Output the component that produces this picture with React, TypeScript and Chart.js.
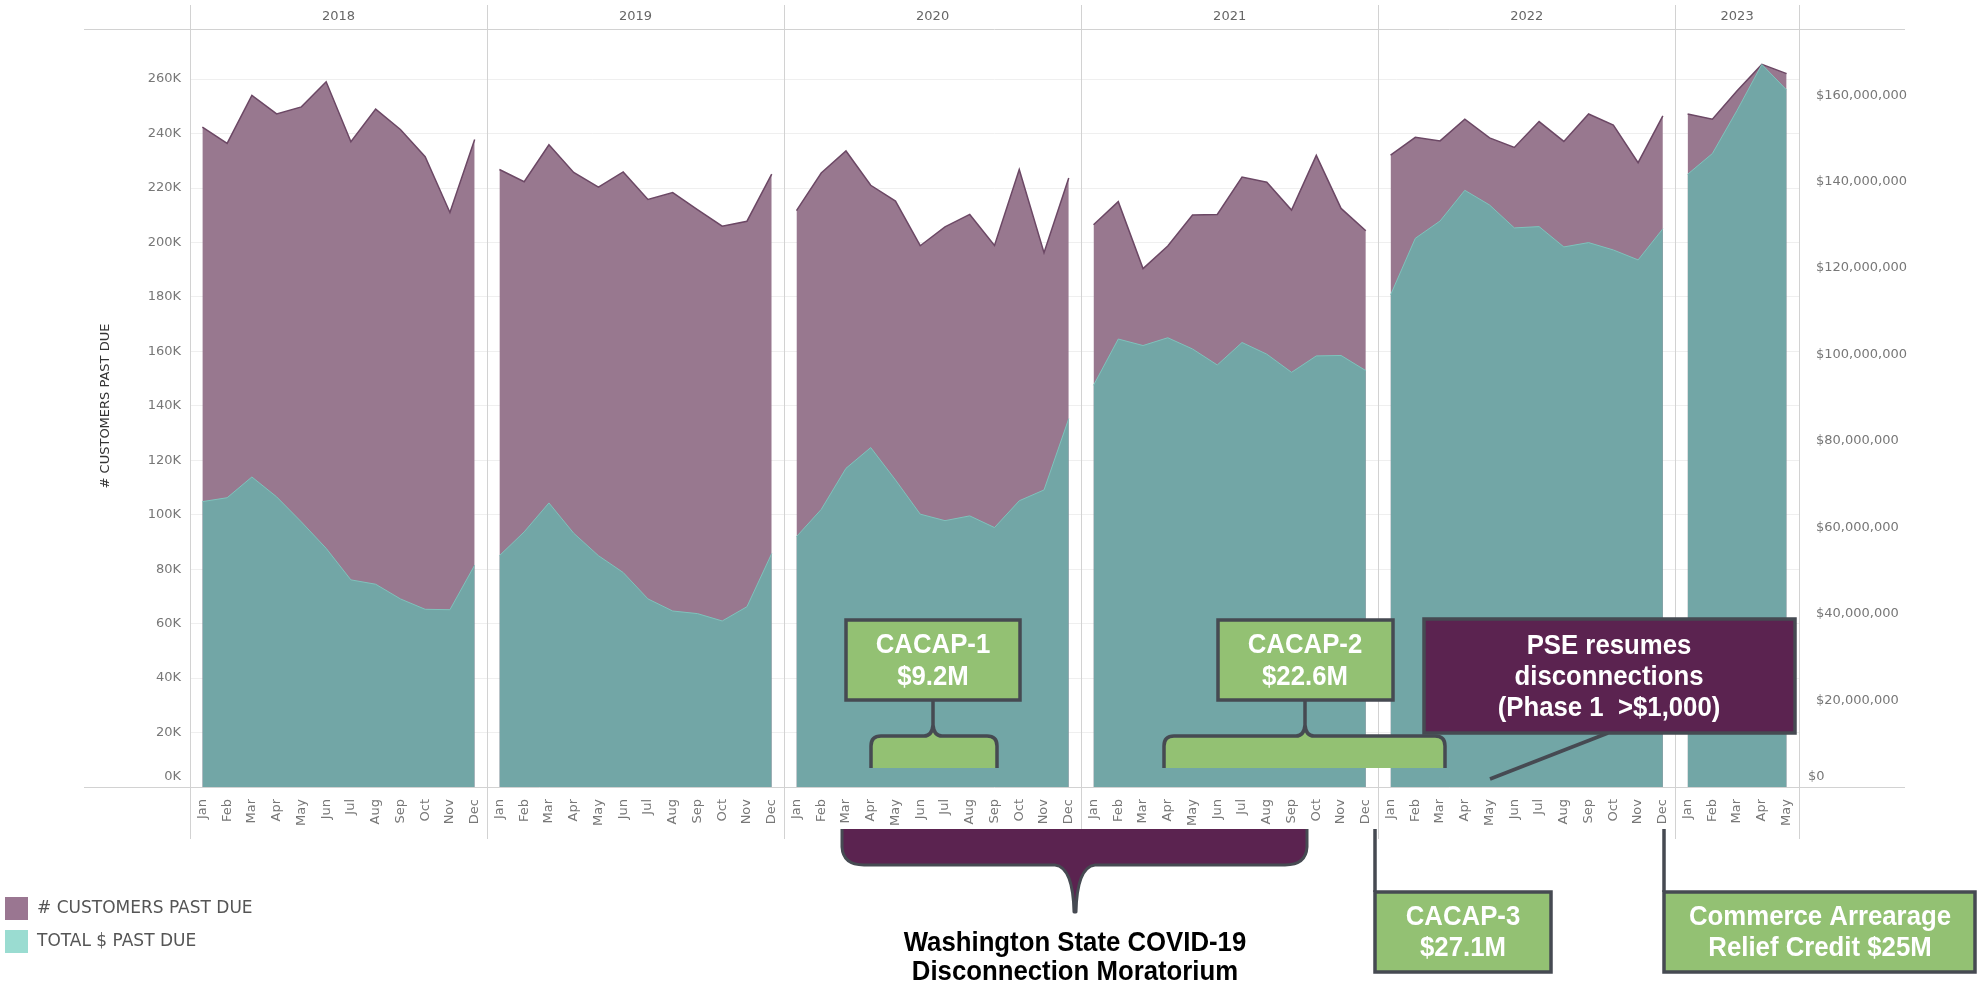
import React, { useEffect, useRef } from 'react';
import { Chart, registerables } from 'chart.js';

Chart.register(...registerables);

const W = 1979;
const H = 985;

const years = ['2018', '2019', '2020', '2021', '2022', '2023'];
const monthNames = ['Jan', 'Feb', 'Mar', 'Apr', 'May', 'Jun', 'Jul', 'Aug', 'Sep', 'Oct', 'Nov', 'Dec'];

// # customers past due (thousands)
const customers2018 = [242.4, 236.4, 254.0, 247.2, 249.8, 259.0, 237.0, 249.0, 241.5, 231.5, 211.0, 237.8];
const customers2019 = [226.8, 222.3, 235.9, 225.7, 220.3, 225.9, 215.8, 218.3, 212.1, 206.0, 207.8, 225.1];
const customers2020 = [211.7, 225.5, 233.6, 221.0, 215.2, 198.8, 205.7, 210.3, 198.9, 226.8, 196.2, 223.7];
const customers2021 = [206.5, 215.0, 190.4, 198.7, 210.1, 210.3, 224.0, 222.1, 211.9, 232.0, 212.5, 204.3];
const customers2022 = [232.1, 238.6, 237.3, 245.3, 238.4, 234.9, 244.4, 237.1, 247.2, 243.1, 229.3, 246.5];
const customers2023 = [247.2, 245.3, 255.7, 265.4, 262.0];

// total $ past due (millions)
const dollars2018 = [66.0, 66.9, 71.7, 67.1, 61.3, 55.2, 47.9, 46.9, 43.5, 41.1, 41.0, 51.3];
const dollars2019 = [53.5, 59.0, 65.7, 58.7, 53.5, 49.6, 43.5, 40.7, 40.1, 38.4, 41.7, 54.0];
const dollars2020 = [57.9, 64.2, 73.7, 78.5, 71.0, 63.1, 61.6, 62.7, 60.0, 66.2, 68.7, 85.2];
const dollars2021 = [92.9, 103.6, 102.1, 103.9, 101.3, 97.6, 102.8, 100.1, 95.9, 99.7, 99.8, 96.3];
const dollars2022 = [113.8, 126.9, 130.9, 138.0, 134.6, 129.3, 129.6, 124.9, 125.9, 124.2, 121.9, 129.1];
const dollars2023 = [141.7, 146.5, 156.5, 167.1, 161.2];

const customersByYear = [customers2018, customers2019, customers2020, customers2021, customers2022, customers2023];
const dollarsByYear = [dollars2018, dollars2019, dollars2020, dollars2021, dollars2022, dollars2023];

// axis ticks
const leftTicks = [0, 20000, 40000, 60000, 80000, 100000, 120000, 140000, 160000, 180000, 200000, 220000, 240000, 260000];
const rightTicks = [0, 20000000, 40000000, 60000000, 80000000, 100000000, 120000000, 140000000, 160000000];
const leftMax = 278400;
const rightMax = 175300000;

const legendLabels = ['# CUSTOMERS PAST DUE', 'TOTAL $ PAST DUE'];
const yTitle = '# CUSTOMERS PAST DUE';

const PURPLE_FILL = '#98788f';
const PURPLE_LINE = '#6c4865';
const TEAL_FILL = '#72a6a6';
const TEAL_LINE = '#7ec3bc';
const GREEN = '#93c173';
const DARK_PURPLE = '#5b2350';
const BORDER = '#464a52';

const labels: string[] = [];
const yearStart: number[] = [];
customersByYear.forEach((arr) => {
  yearStart.push(labels.length);
  arr.forEach((_, m) => labels.push(monthNames[m]));
});
const N = labels.length;

function yearSeries(arr: number[], yi: number, mult: number) {
  const d: (number | null)[] = new Array(N).fill(null);
  arr.forEach((v, m) => {
    d[yearStart[yi] + m] = v * mult;
  });
  return d;
}

const AXIS_FONT = '"DejaVu Sans", "Liberation Sans", sans-serif';
const BOLD_FONT = '"Liberation Sans", Arial, sans-serif';

function drawBox(ctx: CanvasRenderingContext2D, x1: number, y1: number, x2: number, y2: number, fill: string) {
  ctx.save();
  ctx.fillStyle = fill;
  ctx.fillRect(x1, y1, x2 - x1, y2 - y1);
  ctx.strokeStyle = BORDER;
  ctx.lineWidth = 3.5;
  ctx.strokeRect(x1, y1, x2 - x1, y2 - y1);
  ctx.restore();
}

// bold text, slightly condensed horizontally like the original narrow face
function drawTextLines(ctx: CanvasRenderingContext2D, lines: string[], cx: number, ys: number[], color: string, size: number) {
  const sx = 0.92;
  ctx.save();
  ctx.fillStyle = color;
  ctx.font = `bold ${size}px ${BOLD_FONT}`;
  ctx.textAlign = 'center';
  ctx.textBaseline = 'middle';
  ctx.translate(cx, 0);
  ctx.scale(sx, 1);
  lines.forEach((t, i) => ctx.fillText(t, 0, ys[i]));
  ctx.restore();
}

function upBracePath(ctx: CanvasRenderingContext2D, x1: number, x2: number, cx: number, top: number, bottom: number) {
  const r = 10;
  ctx.moveTo(x1, bottom);
  ctx.lineTo(x1, top + r);
  ctx.quadraticCurveTo(x1, top, x1 + r, top);
  ctx.lineTo(cx - 9, top);
  ctx.quadraticCurveTo(cx - 1, top, cx, top - 11);
  ctx.quadraticCurveTo(cx + 1, top, cx + 9, top);
  ctx.lineTo(x2 - r, top);
  ctx.quadraticCurveTo(x2, top, x2, top + r);
  ctx.lineTo(x2, bottom);
}

function drawUpBrace(ctx: CanvasRenderingContext2D, x1: number, x2: number, cx: number, top: number, bottom: number, stemTop: number) {
  ctx.save();
  ctx.beginPath();
  upBracePath(ctx, x1, x2, cx, top, bottom);
  ctx.closePath();
  ctx.fillStyle = GREEN;
  ctx.fill();
  ctx.beginPath();
  upBracePath(ctx, x1, x2, cx, top, bottom);
  ctx.moveTo(cx, top - 10);
  ctx.lineTo(cx, stemTop);
  ctx.strokeStyle = BORDER;
  ctx.lineWidth = 3.5;
  ctx.lineJoin = 'round';
  ctx.stroke();
  ctx.restore();
}

function downBracePath(ctx: CanvasRenderingContext2D, x1: number, x2: number, cx: number, top: number, bottom: number, tip: number) {
  const r = 18;
  ctx.moveTo(x1, top);
  ctx.lineTo(x1, bottom - r);
  ctx.quadraticCurveTo(x1 + 1, bottom, x1 + r + 4, bottom);
  ctx.lineTo(cx - 20, bottom);
  ctx.quadraticCurveTo(cx - 2, bottom + 2, cx - 1, tip);
  ctx.lineTo(cx + 1, tip);
  ctx.quadraticCurveTo(cx + 2, bottom + 2, cx + 20, bottom);
  ctx.lineTo(x2 - r - 4, bottom);
  ctx.quadraticCurveTo(x2 - 1, bottom, x2, bottom - r);
  ctx.lineTo(x2, top);
}

function drawDownBrace(ctx: CanvasRenderingContext2D, x1: number, x2: number, cx: number, top: number, bottom: number, tip: number) {
  ctx.save();
  ctx.beginPath();
  downBracePath(ctx, x1, x2, cx, top, bottom, tip);
  ctx.closePath();
  ctx.fillStyle = DARK_PURPLE;
  ctx.fill();
  ctx.beginPath();
  downBracePath(ctx, x1, x2, cx, top, bottom, tip);
  ctx.strokeStyle = BORDER;
  ctx.lineWidth = 3;
  ctx.lineJoin = 'round';
  ctx.stroke();
  ctx.restore();
}

const decorPlugin = {
  id: 'decor',
  beforeDraw(chart: any) {
    const ctx = chart.ctx;
    ctx.save();
    ctx.fillStyle = '#ffffff';
    ctx.fillRect(0, 0, chart.width, chart.height);
    ctx.restore();
  },
  afterDraw(chart: any) {
    const ctx: CanvasRenderingContext2D = chart.ctx;
    const area = chart.chartArea;
    const xs = chart.scales.x;

    const bounds: number[] = [area.left];
    for (let i = 1; i < years.length; i++) {
      const s = yearStart[i];
      bounds.push((xs.getPixelForValue(s - 1) + xs.getPixelForValue(s)) / 2);
    }
    bounds.push(area.right);

    // frame lines
    ctx.save();
    ctx.strokeStyle = '#d2d2d2';
    ctx.lineWidth = 1;
    ctx.beginPath();
    ctx.moveTo(84, 29.5);
    ctx.lineTo(1905, 29.5);
    const by = Math.round(area.bottom) + 0.5;
    ctx.moveTo(84, by);
    ctx.lineTo(1905, by);
    bounds.forEach((b) => {
      const bx = Math.round(b) + 0.5;
      ctx.moveTo(bx, 5);
      ctx.lineTo(bx, 839);
    });
    ctx.stroke();
    ctx.restore();

    // year headers
    ctx.save();
    ctx.fillStyle = '#666666';
    ctx.font = `13px ${AXIS_FONT}`;
    ctx.textAlign = 'center';
    ctx.textBaseline = 'middle';
    years.forEach((y, i) => ctx.fillText(y, (bounds[i] + bounds[i + 1]) / 2, 17));
    // zero labels lifted above the baseline
    ctx.fillStyle = '#777777';
    ctx.textAlign = 'right';
    ctx.fillText('0K', area.left - 9, area.bottom - 10);
    ctx.textAlign = 'left';
    ctx.fillText('$0', area.right + 9, area.bottom - 10);
    ctx.restore();

    // y axis title
    ctx.save();
    ctx.translate(106, 406);
    ctx.rotate(-Math.PI / 2);
    ctx.fillStyle = '#333333';
    ctx.font = `13px ${AXIS_FONT}`;
    ctx.textAlign = 'center';
    ctx.textBaseline = 'middle';
    ctx.fillText(yTitle, 0, 0);
    ctx.restore();

    // legend
    ctx.save();
    ctx.fillStyle = '#9a7691';
    ctx.fillRect(5, 897, 23, 23);
    ctx.fillStyle = '#9adcd1';
    ctx.fillRect(5, 930, 23, 23);
    ctx.fillStyle = '#555555';
    ctx.font = `17px ${AXIS_FONT}`;
    ctx.textAlign = 'left';
    ctx.textBaseline = 'middle';
    ctx.fillText(legendLabels[0], 37, 909);
    ctx.fillText(legendLabels[1], 37, 942);
    ctx.restore();

    const TS = 28;

    // CACAP-1
    drawUpBrace(ctx, 871, 997, 933, 736, 768, 700);
    drawBox(ctx, 846, 620, 1020, 700, GREEN);
    drawTextLines(ctx, ['CACAP-1', '$9.2M'], 933, [645, 677], '#ffffff', TS);

    // CACAP-2
    drawUpBrace(ctx, 1164, 1445, 1305, 736, 768, 700);
    drawBox(ctx, 1218, 620, 1393, 700, GREEN);
    drawTextLines(ctx, ['CACAP-2', '$22.6M'], 1305, [645, 677], '#ffffff', TS);

    // PSE resumes
    ctx.save();
    ctx.strokeStyle = BORDER;
    ctx.lineWidth = 3.5;
    ctx.beginPath();
    ctx.moveTo(1608, 733);
    ctx.lineTo(1490, 779);
    ctx.stroke();
    ctx.restore();
    drawBox(ctx, 1424, 619, 1795, 733, DARK_PURPLE);
    drawTextLines(ctx, ['PSE resumes', 'disconnections', '(Phase 1  >$1,000)'], 1609, [646, 677, 708], '#ffffff', TS);

    // Moratorium
    drawDownBrace(ctx, 842, 1307, 1075, 829, 865, 912);
    drawTextLines(ctx, ['Washington State COVID-19', 'Disconnection Moratorium'], 1075, [943, 972], '#000000', TS);

    // CACAP-3 and Commerce connectors
    ctx.save();
    ctx.strokeStyle = BORDER;
    ctx.lineWidth = 3.5;
    ctx.beginPath();
    ctx.moveTo(1375, 829);
    ctx.lineTo(1375, 892);
    ctx.moveTo(1664, 829);
    ctx.lineTo(1664, 892);
    ctx.stroke();
    ctx.restore();
    drawBox(ctx, 1375, 892, 1551, 972, GREEN);
    drawTextLines(ctx, ['CACAP-3', '$27.1M'], 1463, [917, 948], '#ffffff', TS);

    drawBox(ctx, 1664, 892, 1975, 972, GREEN);
    drawTextLines(ctx, ['Commerce Arrearage', 'Relief Credit $25M'], 1820, [917, 948], '#ffffff', TS);
  },
};

export default function App() {
  const canvasRef = useRef<HTMLCanvasElement | null>(null);

  useEffect(() => {
    document.body.style.margin = '0';
    document.body.style.overflow = 'hidden';
    const canvas = canvasRef.current;
    if (!canvas) return;

    const tealSets = dollarsByYear.map((arr, yi) => ({
      label: legendLabels[1] + ' ' + years[yi],
      data: yearSeries(arr, yi, 1e6),
      yAxisID: 'y1',
      backgroundColor: TEAL_FILL,
      borderColor: TEAL_LINE,
      borderWidth: 1,
      fill: 'origin',
      pointRadius: 0,
      tension: 0,
      spanGaps: false,
    }));
    const purpleSets = customersByYear.map((arr, yi) => ({
      label: legendLabels[0] + ' ' + years[yi],
      data: yearSeries(arr, yi, 1000),
      yAxisID: 'y',
      backgroundColor: PURPLE_FILL,
      borderColor: PURPLE_LINE,
      borderWidth: 1.5,
      fill: 'origin',
      pointRadius: 0,
      tension: 0,
      spanGaps: false,
    }));

    const chart = new Chart(canvas, {
      type: 'line',
      data: { labels, datasets: [...tealSets, ...purpleSets] as any },
      options: {
        responsive: false,
        animation: false,
        layout: { padding: { top: 29, left: 0, right: 0, bottom: 0 } },
        plugins: { legend: { display: false }, tooltip: { enabled: false }, title: { display: false } },
        scales: {
          x: {
            type: 'category',
            offset: true,
            grid: { display: false },
            border: { display: false },
            ticks: {
              autoSkip: false,
              maxRotation: 90,
              minRotation: 90,
              padding: 4,
              color: '#777777',
              font: { family: AXIS_FONT, size: 13 },
            },
            afterFit: (s: any) => {
              s.height = 198;
            },
          },
          y: {
            position: 'left',
            min: 0,
            max: leftMax,
            grid: { color: '#efefef', drawTicks: false },
            border: { display: false },
            ticks: {
              padding: 9,
              color: '#777777',
              font: { family: AXIS_FONT, size: 13 },
              callback: (v: any) => (Number(v) === 0 ? '' : Number(v) / 1000 + 'K'),
            },
            afterBuildTicks: (s: any) => {
              s.ticks = leftTicks.map((v) => ({ value: v }));
            },
            afterFit: (s: any) => {
              s.width = 190;
            },
          },
          y1: {
            position: 'right',
            min: 0,
            max: rightMax,
            grid: { display: false },
            border: { display: false },
            ticks: {
              padding: 9,
              color: '#777777',
              font: { family: AXIS_FONT, size: 13 },
              callback: (v: any) => (Number(v) === 0 ? '' : '$' + Number(v).toLocaleString('en-US')),
            },
            afterBuildTicks: (s: any) => {
              s.ticks = rightTicks.map((v) => ({ value: v }));
            },
            afterFit: (s: any) => {
              s.width = 180;
            },
          },
        },
      } as any,
      plugins: [decorPlugin],
    });

    return () => chart.destroy();
  }, []);

  return (
    <div style={{ width: W, height: H, position: 'relative' }}>
      <canvas ref={canvasRef} width={W} height={H} style={{ display: 'block' }} />
    </div>
  );
}
